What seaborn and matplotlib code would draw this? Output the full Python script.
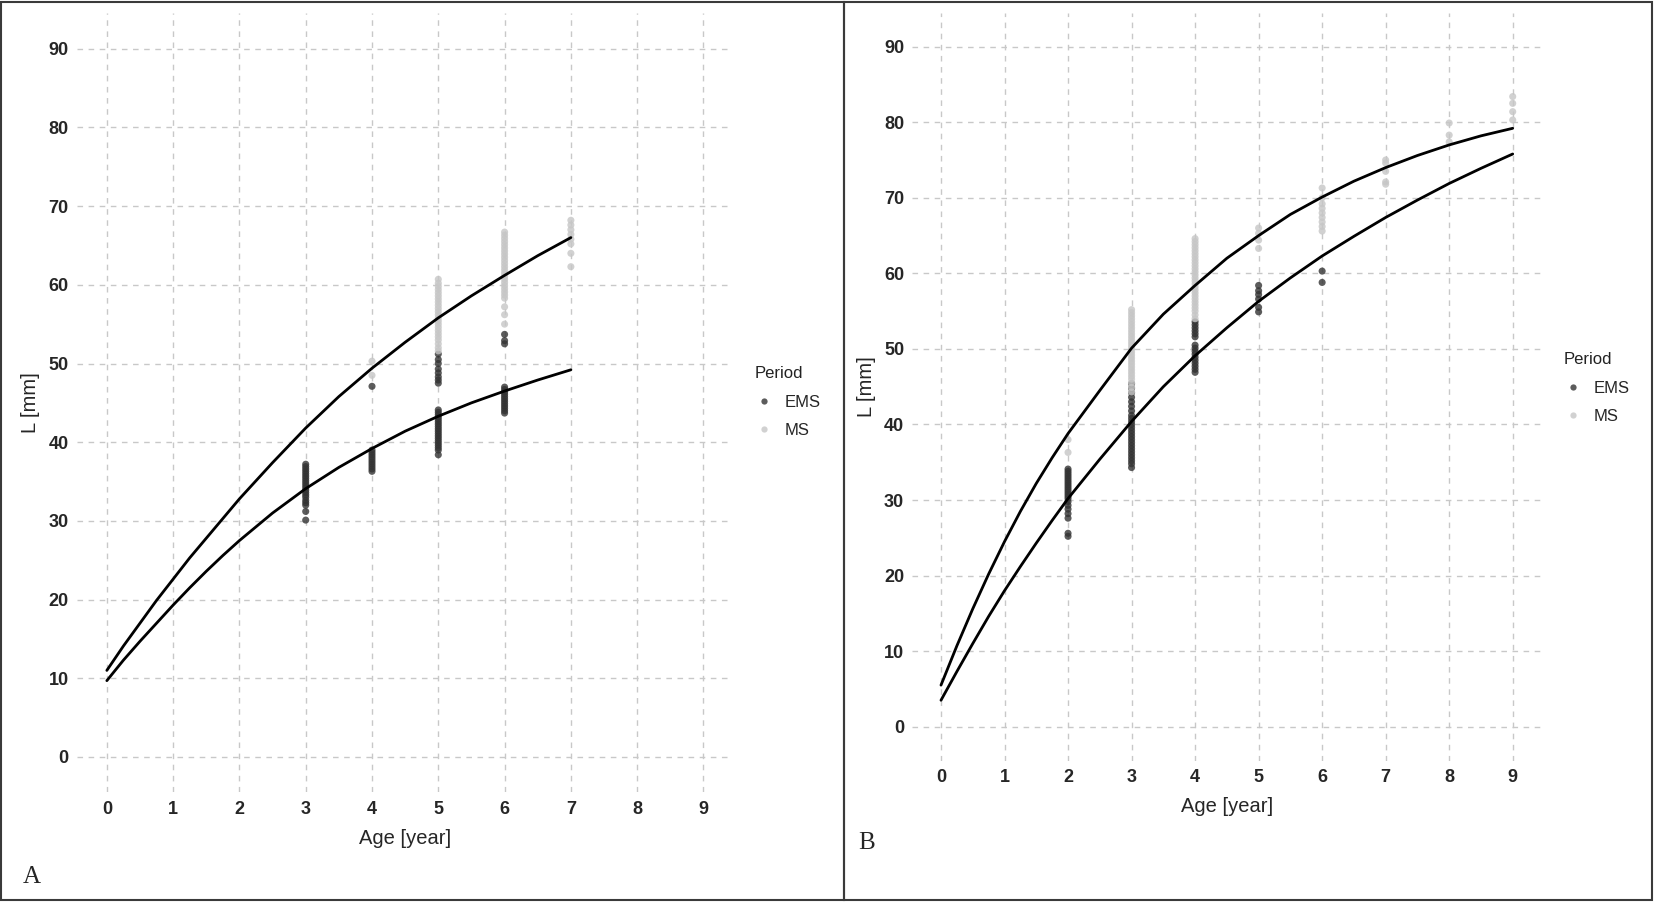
"""Growth curves (length at age) for two periods, panels A and B.

Output:
    out.png
"""

import matplotlib
matplotlib.use("Agg")
import matplotlib.pyplot as plt
from matplotlib.lines import Line2D
from matplotlib.patches import Rectangle
import pandas as pd
import seaborn as sns


# ── Panel A: observed lengths [mm] per age ─────────────────────────────────
A_EMS_3 = [37.2, 36.9, 36.6, 36.3, 36.0, 35.7, 35.4, 35.1, 34.8, 34.5, 34.2,
           33.9, 33.6, 33.3, 33.0, 32.6, 32.3, 32.0, 31.2, 30.1]
A_EMS_4 = [39.0, 38.7, 38.4, 38.1, 37.8, 37.5, 37.2, 36.9, 36.6, 36.3, 47.1]
A_EMS_5 = [44.1, 43.8, 43.5, 43.2, 42.9, 42.6, 42.3, 42.0, 41.7, 41.4, 41.1,
           40.8, 40.5, 40.2, 39.9, 39.6, 39.3, 39.0, 38.4,
           47.5, 47.9, 48.3, 48.8, 49.3, 50.0, 50.5, 51.2]
A_EMS_6 = [47.0, 46.7, 46.4, 46.1, 45.8, 45.5, 45.2, 44.9, 44.6, 44.3, 44.0,
           43.7, 52.5, 52.9, 53.7]

A_MS_4 = [48.5, 50.3]
A_MS_5 = [60.7, 60.2, 59.8, 59.4, 59.0, 58.6, 58.2, 57.8, 57.4, 57.0, 56.6,
          56.2, 55.8, 55.4, 55.0, 54.6, 54.2, 53.8, 53.4, 53.0, 52.5, 52.0, 51.6]
A_MS_6 = [66.7, 66.3, 65.9, 65.5, 65.1, 64.7, 64.3, 63.9, 63.5, 63.1, 62.7,
          62.3, 61.9, 61.5, 61.1, 60.7, 60.3, 59.9, 59.5, 59.1, 58.7, 58.3,
          57.2, 56.2, 55.0]
A_MS_7 = [68.2, 67.6, 67.0, 66.4, 65.8, 65.2, 64.0, 62.3]

# fitted curves (quarter years early on, then half years)
A_CURVE_AGE = [0, 0.25, 0.5, 0.75, 1, 1.25, 1.5, 1.75, 2, 2.5, 3, 3.5, 4,
               4.5, 5, 5.5, 6, 6.5, 7]
A_CURVE_MS = [11.0, 14.1, 17.0, 19.9, 22.6, 25.3, 27.8, 30.3, 32.8, 37.4,
              41.8, 45.8, 49.4, 52.7, 55.8, 58.6, 61.2, 63.7, 66.0]
A_CURVE_EMS = [9.7, 12.3, 14.7, 17.0, 19.3, 21.5, 23.6, 25.6, 27.5, 31.0,
               34.1, 36.8, 39.2, 41.4, 43.3, 45.0, 46.5, 47.9, 49.2]

# ── Panel B: observed lengths [mm] per age ─────────────────────────────────
B_EMS_2 = [34.1, 33.8, 33.5, 33.2, 32.9, 32.6, 32.3, 32.0, 31.7, 31.4, 31.1,
           30.8, 30.5, 30.2, 29.8, 29.3, 28.8, 28.2, 27.6, 25.6, 25.2]
B_EMS_3 = [45.4, 44.8, 44.2, 43.6, 43.0, 42.4, 41.8, 41.2, 40.8, 40.4, 40.0,
           39.6, 39.2, 38.8, 38.4, 38.0, 37.6, 37.2, 36.8, 36.4, 36.0, 35.6,
           35.2, 34.8, 34.3]
B_EMS_4 = [53.6, 53.2, 52.8, 52.4, 52.0, 51.6, 50.5, 50.1, 49.7, 49.3, 48.9,
           48.5, 48.1, 47.7, 47.3, 46.9]
B_EMS_5 = [58.4, 57.7, 57.2, 56.6, 55.5, 54.9]
B_EMS_6 = [60.3, 58.8]

B_MS_2 = [38.0, 36.3]
B_MS_3 = [55.2, 54.8, 54.4, 54.0, 53.6, 53.2, 52.8, 52.4, 52.0, 51.6, 51.2,
          50.8, 50.4, 50.0, 49.6, 49.2, 48.8, 48.4, 48.0, 47.6, 47.2, 46.8,
          46.4, 46.0, 45.5, 44.9, 44.3]
B_MS_4 = [64.6, 64.2, 63.8, 63.4, 63.0, 62.6, 62.2, 61.8, 61.4, 61.0, 60.6,
          60.2, 59.8, 59.4, 59.0, 58.6, 58.2, 57.8, 57.4, 57.0, 56.6, 56.2,
          55.8, 55.4, 55.0, 54.5, 54.0]
B_MS_5 = [66.0, 65.3, 64.4, 63.3]
B_MS_6 = [71.3, 70.0, 69.2, 68.6, 68.0, 67.4, 66.8, 66.2, 65.6]
B_MS_7 = [75.0, 74.6, 73.5, 72.1, 71.8]
B_MS_8 = [79.9, 78.3, 77.4]
B_MS_9 = [83.4, 82.5, 81.4, 80.3]

B_CURVE_AGE = [0, 0.25, 0.5, 0.75, 1, 1.25, 1.5, 1.75, 2, 2.5, 3, 3.5, 4,
               4.5, 5, 5.5, 6, 6.5, 7, 7.5, 8, 8.5, 9]
B_CURVE_MS = [5.5, 10.7, 15.6, 20.2, 24.5, 28.5, 32.2, 35.6, 38.8, 44.5,
              50.1, 54.6, 58.4, 62.0, 65.0, 67.8, 70.1, 72.2, 74.0, 75.6,
              77.0, 78.2, 79.2]
B_CURVE_EMS = [3.5, 7.3, 11.0, 14.6, 18.0, 21.2, 24.3, 27.3, 30.2, 35.4,
               40.4, 45.0, 49.1, 52.8, 56.3, 59.4, 62.3, 64.9, 67.4, 69.7,
               71.9, 73.9, 75.8]

PERIODS = ["EMS", "MS"]
X_TICKS = list(range(10))
Y_TICKS = list(range(0, 100, 10))

PALETTE = {"EMS": "#333333", "MS": "#c6c6c6"}

W, H = 1654, 902


def to_frame(groups: list[tuple[str, int, list[float]]]) -> pd.DataFrame:
    """Stack (period, age, lengths) groups into a long table."""
    rows = []
    for period, age, values in groups:
        for v in values:
            rows.append({"Period": period, "age": age, "length": v})
    return pd.DataFrame(rows)


def draw_panel(ax, points: pd.DataFrame, curve_age, curves, legend_xy) -> None:
    """Scatter the observations, overlay the fitted curves, style like ggplot."""
    sns.scatterplot(
        data=points, x="age", y="length", hue="Period", hue_order=PERIODS,
        palette=PALETTE, s=26, alpha=0.8, linewidth=0, ax=ax, legend=False,
        zorder=2,
    )
    for values in curves:
        sns.lineplot(x=curve_age, y=values, color="black", linewidth=2.0,
                     ax=ax, zorder=3)

    ax.set_xlim(-0.45, 9.45)
    ax.set_ylim(-4.5, 94.5)
    ax.set_xticks(X_TICKS)
    ax.set_yticks(Y_TICKS)
    ax.grid(True, linestyle=(0, (4, 4)), color="#c8c8c8", linewidth=1.0)
    ax.set_axisbelow(True)
    sns.despine(ax=ax, left=True, bottom=True)
    ax.tick_params(length=4, width=1, color="#8a8a8a", labelsize=13, pad=2)
    plt.setp(ax.get_xticklabels() + ax.get_yticklabels(), fontweight="bold")
    ax.set_xlabel("Age [year]", fontsize=14.5, labelpad=8)
    ax.set_ylabel("L [mm]", fontsize=14.5, labelpad=6)

    handles = [
        Line2D([], [], marker="o", linestyle="", markersize=4.5,
               markerfacecolor=PALETTE[p], markeredgewidth=0, alpha=0.8)
        for p in PERIODS
    ]
    leg = ax.legend(
        handles, PERIODS, title="Period", loc="upper left",
        bbox_to_anchor=legend_xy, bbox_transform=ax.figure.transFigure,
        frameon=False, fontsize=12, title_fontsize=12, alignment="left",
        handletextpad=0.6, labelspacing=0.8, borderpad=0, handlelength=1.2,
    )
    leg.get_title().set_color("#222222")


def main() -> None:
    sns.set_theme(style="white")
    plt.rcParams["font.family"] = ["Liberation Sans", "DejaVu Sans"]

    fig = plt.figure(figsize=(W / 100, H / 100), dpi=100)
    fig.patch.set_facecolor("white")

    ax_a = fig.add_axes([77 / W, 1 - 792.4 / H, 656.3 / W, 779.1 / H])
    ax_b = fig.add_axes([912.4 / W, 1 - 760.7 / H, 628.9 / W, 748.0 / H])

    points_a = to_frame([
        ("EMS", 3, A_EMS_3), ("EMS", 4, A_EMS_4), ("EMS", 5, A_EMS_5),
        ("EMS", 6, A_EMS_6),
        ("MS", 4, A_MS_4), ("MS", 5, A_MS_5), ("MS", 6, A_MS_6),
        ("MS", 7, A_MS_7),
    ])
    points_b = to_frame([
        ("EMS", 2, B_EMS_2), ("EMS", 3, B_EMS_3), ("EMS", 4, B_EMS_4),
        ("EMS", 5, B_EMS_5), ("EMS", 6, B_EMS_6),
        ("MS", 2, B_MS_2), ("MS", 3, B_MS_3), ("MS", 4, B_MS_4),
        ("MS", 5, B_MS_5), ("MS", 6, B_MS_6), ("MS", 7, B_MS_7),
        ("MS", 8, B_MS_8), ("MS", 9, B_MS_9),
    ])

    draw_panel(ax_a, points_a, A_CURVE_AGE, [A_CURVE_MS, A_CURVE_EMS],
               (746 / W, 1 - 358 / H))
    draw_panel(ax_b, points_b, B_CURVE_AGE, [B_CURVE_MS, B_CURVE_EMS],
               (1555 / W, 1 - 344 / H))

    # panel frames and letters
    for x0, x1 in [(1, 844), (844, 1652)]:
        fig.add_artist(Rectangle(
            (x0 / W, 2 / H), (x1 - x0) / W, (H - 4) / H,
            transform=fig.transFigure, fill=False, edgecolor="#3a3a3a",
            linewidth=1.5,
        ))
    fig.text(32 / W, 1 - 877 / H, "A", family="Liberation Serif",
             fontsize=18, va="center", ha="center")
    fig.text(867 / W, 1 - 843 / H, "B", family="Liberation Serif",
             fontsize=18, va="center", ha="center")

    fig.savefig("out.png", dpi=100)
    plt.close(fig)


if __name__ == "__main__":
    main()
